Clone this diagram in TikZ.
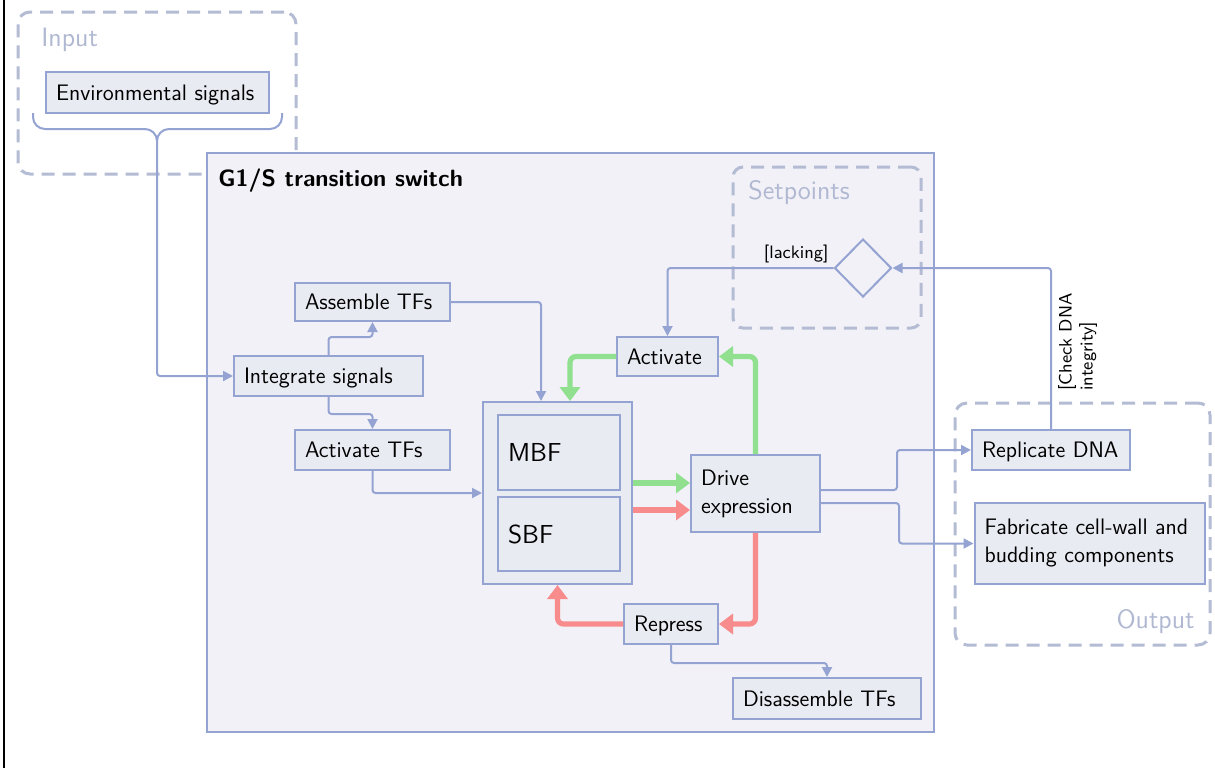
\documentclass[tikz,border=0pt]{standalone}
\usepackage{fontspec}
\renewcommand{\familydefault}{\sfdefault}
\usetikzlibrary{arrows.meta,calc,shapes.geometric}

\definecolor{edge}{RGB}{148,163,210}
\definecolor{boxfill}{RGB}{233,235,243}
\definecolor{panelfill}{RGB}{241,241,247}
\definecolor{dashcol}{RGB}{180,188,212}
\definecolor{faint}{RGB}{176,184,210}
\definecolor{actgreen}{RGB}{144,224,144}
\definecolor{represred}{RGB}{248,140,140}

\tikzset{
  textsz/.style={font=\fontsize{11.2}{14}\selectfont},
  box/.style={draw=edge, fill=boxfill, line width=1pt, rectangle,
    inner xsep=5pt, inner ysep=0pt, align=left, textsz},
  onebox/.style={box, text depth=0pt},
  group/.style={draw=dashcol, line width=1.5pt, dash pattern=on 6.5pt off 4pt,
    rounded corners=6pt, rectangle, inner sep=0pt},
  grouplabel/.style={text=faint, font=\fontsize{13.3}{16}\selectfont, inner sep=0pt},
  conn/.style={draw=edge, line width=1pt, rounded corners=1.5pt,
    -{Triangle[length=5pt,width=5pt]}},
  fwd/.style={draw=actgreen, line width=2.6pt, rounded corners=3pt,
    -{Triangle[length=7pt,width=10pt]}},
  back/.style={draw=represred, line width=2.6pt, rounded corners=3pt,
    -{Triangle[length=7pt,width=10pt]}},
  small/.style={font=\fontsize{9}{10.5}\selectfont},
}

\begin{document}
\begin{tikzpicture}[x=0.5pt,y=-0.5pt]
\useasboundingbox (0,0) rectangle (1215,768);

% frame line on the left
\draw[black, line width=1pt] (4,0) -- (4,768);

% input group
\node[group, minimum width=139pt, minimum height=81pt] (input) at (157,93) {};
\node[grouplabel, anchor=west] (inputlbl) at (41,40) {Input};
\node[onebox, text width=101.5pt, minimum height=20.5pt] (env) at (157.5,92.5) {Environmental signals};

% brace collecting the signals
\coordinate (bracetip) at (157,141);
\draw[edge, line width=1pt, rounded corners=6pt] (33,113) -- (33,129) -- (157,129) -- (bracetip);
\draw[edge, line width=1pt, rounded corners=6pt] (282,113) -- (282,129) -- (157,129) -- (bracetip);

% switch panel
\node[draw=edge, fill=panelfill, line width=1pt, minimum width=363.5pt, minimum height=289.5pt,
  inner sep=0pt] (g1s) at (570.5,442.5) {};
\node[anchor=west, font=\fontsize{11.8}{14}\selectfont\bfseries, inner sep=0pt] (g1slbl) at (218,181)
  {G1/S transition switch};

% setpoints group
\node[group, rounded corners=5pt, minimum width=94pt, minimum height=80.5pt] (setp) at (827,247.5) {};
\node[grouplabel, anchor=west] (setplbl) at (748,193) {Setpoints};
\node[diamond, draw=edge, fill=panelfill, line width=1pt, minimum width=28.5pt, minimum height=29pt,
  inner sep=0pt] (dia) at (863,268) {};

% output group
\node[group, minimum width=127.5pt, minimum height=121pt] (output) at (1082.5,524) {};
\node[grouplabel, anchor=east] (outlbl) at (1195,622) {Output};

% process steps
\node[onebox, text width=67.5pt, minimum height=19pt] (assemble) at (372.5,302) {Assemble TFs};
\node[onebox, text width=84.5pt, minimum height=20pt] (integ) at (328.5,376) {Integrate signals};
\node[onebox, text width=67.5pt, minimum height=20pt] (acttf) at (372.5,450) {Activate TFs};
\node[onebox, text width=40.5pt, minimum height=19.5pt] (activate) at (667.5,356.5) {Activate};

\node[box, minimum width=74.5pt, minimum height=91pt] (container) at (557.5,493) {};
\node[onebox, text width=51pt, minimum height=37.5pt, font=\fontsize{13}{15}\selectfont] (mbf) at (559,452.5) {MBF};
\node[onebox, text width=51pt, minimum height=37pt, font=\fontsize{13}{15}\selectfont] (sbf) at (559,534) {SBF};

\node[box, text width=54.5pt, minimum height=38.5pt] (drive) at (755.5,493.5) {Drive\\expression};
\node[onebox, text width=37pt, minimum height=20pt] (repress) at (671,624) {Repress};
\node[onebox, text width=84pt, minimum height=20.5pt] (disasm) at (827,698.5) {Disassemble TFs};

\node[onebox, text width=69pt, minimum height=20pt] (replicate) at (1051,450) {\mbox{Replicate DNA}};
\node[box, text width=105pt, minimum height=40.5pt] (fabricate) at (1089.5,543.5)
  {\mbox{Fabricate cell-wall and}\\\mbox{budding components}};

% signal flow
\draw[conn] (bracetip) |- (integ.west);
\draw[conn] (integ.north) -- ++(0,-18) -| (assemble.south);
\draw[conn] (integ.south) -- ++(0,17) -| (acttf.north);
\draw[conn] (assemble.east) -| ($(container.north)+(-16.5,0)$);
\draw[conn] (acttf.south) |- (container.west);
\draw[conn] (dia.west) -| node[pos=0, above left, small, inner sep=2pt] {[lacking]} (activate.north);
\draw[conn] (replicate.north) |- node[pos=0.27, rotate=90, anchor=north, small, align=left, inner sep=3pt]
  {[Check DNA\\integrity]} (dia.east);
\draw[conn] (repress.south) -- ++(0,18) -| (disasm.north);
\draw[conn] ($(drive.east)+(0,-3.5)$) -- ++(76,0) |- (replicate.west);
\draw[conn] ($(drive.east)+(0,9.5)$) -- ++(78,0) |- (fabricate.west);

% activation loop
\draw[fwd] (activate.west) -| ($(container.north)+(12.5,0)$);
\draw[fwd] (drive.north) |- (activate.east);
\draw[fwd] ($(container.east)+(0,-10)$) -- ($(container.east -| drive.west)+(0,-10)$);

% repression loop
\draw[back] ($(container.east)+(0,17)$) -- ($(container.east -| drive.west)+(0,17)$);
\draw[back] (drive.south) |- (repress.east);
\draw[back] (repress.west) -| (container.south);
\end{tikzpicture}
\end{document}
